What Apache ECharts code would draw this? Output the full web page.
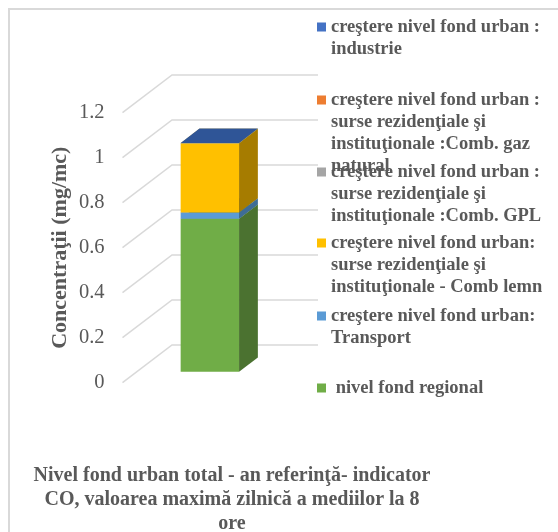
<!DOCTYPE html>
<html><head><meta charset="utf-8">
<script src="https://cdn.jsdelivr.net/npm/echarts@6/dist/echarts.min.js"></script>
<style>html,body{margin:0;padding:0;background:#fff}#c{width:558px;height:532px}</style>
</head><body><div id="c"></div>
<script>
// ---- data ----
const categories = ['CO'];
const titleLines = ['Nivel fond urban total - an referinţă- indicator', 'CO, valoarea maximă zilnică a mediilor la 8', 'ore'];
// series names, bottom of stack first
const seriesNames = [
  ' nivel fond regional',
  'creştere nivel fond urban: Transport',
  'creştere nivel fond urban: surse rezidenţiale şi instituţionale - Comb lemn',
  'creştere nivel fond urban : surse rezidenţiale şi instituţionale :Comb. GPL',
  'creştere nivel fond urban : surse rezidenţiale şi instituţionale :Comb. gaz natural',
  'creştere nivel fond urban : industrie'
];
const regional = [0.68];
const transport = [0.028];
const lemn = [0.308];
const gpl = [0];
const gazNatural = [0];
const industrie = [0.001];
const yTicks = [0, 0.2, 0.4, 0.6, 0.8, 1, 1.2];
// legend label lines (as wrapped in the reference)
const legendLines = {
  'creştere nivel fond urban : industrie': ['creştere nivel fond urban :', 'industrie'],
  'creştere nivel fond urban : surse rezidenţiale şi instituţionale :Comb. gaz natural': ['creştere nivel fond urban :', 'surse rezidenţiale şi', 'instituţionale :Comb. gaz', 'natural'],
  'creştere nivel fond urban : surse rezidenţiale şi instituţionale :Comb. GPL': ['creştere nivel fond urban :', 'surse rezidenţiale şi', 'instituţionale :Comb. GPL'],
  'creştere nivel fond urban: surse rezidenţiale şi instituţionale - Comb lemn': ['creştere nivel fond urban:', 'surse rezidenţiale şi', 'instituţionale - Comb lemn'],
  'creştere nivel fond urban: Transport': ['creştere nivel fond urban:', 'Transport'],
  ' nivel fond regional': [' nivel fond regional']
};
// ---- styles ----
const seriesValues = [regional, transport, lemn, gpl, gazNatural, industrie];
const frontColors = ['#70AD47', '#5B9BD5', '#FFC000', '#A5A5A5', '#ED7D31', '#4472C4'];
const sideColors  = ['#4B7230', '#3E6C96', '#A67C00', '#737373', '#A6561F', '#2F5597'];
const topColors   = ['#5C8E3A', '#4A7FB0', '#D9A300', '#8A8A8A', '#C86A28', '#2F5597'];
const DEPTH = [49.5, -37.7];     // oblique depth vector of the plot floor
const FRONT = 0.29, BACK = 0.67; // bar depth span (fractions of floor depth)
const BAR_RATIO = 0.4;
const FONT = 'Liberation Serif, Times New Roman, serif';
const GRAY = '#595959';

function barRender(i) {
  return function (params, api) {
    const cat = api.value(0), base = api.value(1), top = api.value(2);
    if (!(top - base > 0)) return null;
    const band = api.size([1, 0])[0];
    const w = band * BAR_RATIO;
    const c = api.coord([cat, 0])[0];
    const yb = api.coord([cat, base])[1], yt = api.coord([cat, top])[1];
    const f = [DEPTH[0] * FRONT, DEPTH[1] * FRONT];
    const d = [DEPTH[0] * (BACK - FRONT), DEPTH[1] * (BACK - FRONT)];
    const x0 = c - w / 2 + f[0], x1 = c + w / 2 + f[0];
    const y0 = yb + f[1], y1 = yt + f[1];
    return {
      type: 'group', children: [
        { type: 'polygon', shape: { points: [[x0, y0], [x1, y0], [x1, y1], [x0, y1]] }, style: { fill: frontColors[i] } },
        { type: 'polygon', shape: { points: [[x1, y0], [x1 + d[0], y0 + d[1]], [x1 + d[0], y1 + d[1]], [x1, y1]] }, style: { fill: sideColors[i] } },
        { type: 'polygon', shape: { points: [[x0, y1], [x1, y1], [x1 + d[0], y1 + d[1]], [x0 + d[0], y1 + d[1]]] }, style: { fill: topColors[i] } }
      ]
    };
  };
}

function gridRender(params, api) {
  const cs = params.coordSys;
  const y = api.coord([0, api.value(1)])[1];
  const x0 = cs.x;
  return {
    type: 'polyline',
    shape: { points: [[x0, y], [x0 + DEPTH[0], y + DEPTH[1]], [x0 + DEPTH[0] + cs.width, y + DEPTH[1]]] },
    style: { stroke: '#D9D9D9', lineWidth: 1.5, fill: null }
  };
}

const series = [{
  type: 'custom', name: '_grid', silent: true, renderItem: gridRender,
  data: yTicks.map(v => [0, v]), z: 1
}];
const cum = categories.map(() => 0);
seriesValues.forEach((vals, i) => {
  series.push({
    type: 'custom', name: seriesNames[i], renderItem: barRender(i), z: 2 + i,
    itemStyle: { color: frontColors[i] },
    data: vals.map((v, k) => { const b = cum[k]; cum[k] += v; return [k, b, cum[k]]; })
  });
});

// legend: one block per entry, listed top of stack first; the square sits beside the first text line
const legendOrder = seriesNames.slice().reverse();
const legendIconCenters = [27, 100, 172, 243, 316, 388];
const LH = 22, SQ = 9;
function iconPath(h) {
  const s = LH / 2 - SQ / 2;
  return 'path://M0,0L' + SQ + ',0L' + SQ + ',0.001Z' +
    'M0,' + s + 'L' + SQ + ',' + s + 'L' + SQ + ',' + (s + SQ) + 'L0,' + (s + SQ) + 'Z' +
    'M0,' + (h - 0.001) + 'L' + SQ + ',' + (h - 0.001) + 'L' + SQ + ',' + h + 'Z';
}
const legends = legendOrder.map((name, k) => {
  const n = legendLines[name].length;
  const h = n * LH;
  return {
    data: [name], orient: 'vertical', left: 317, top: legendIconCenters[k] - LH / 2,
    padding: 0, icon: iconPath(h), itemWidth: SQ, itemHeight: h, selectedMode: false,
    formatter: nm => legendLines[nm].join('\n'),
    textStyle: { fontFamily: FONT, fontWeight: 'bold', fontSize: 18.5, color: GRAY, lineHeight: LH }
  };
});

const chart = echarts.init(document.getElementById('c'), null, { renderer: 'canvas' });
chart.setOption({
  animation: false,
  backgroundColor: '#fff',
  graphic: [{ type: 'rect', shape: { x: 9, y: 9, width: 700, height: 700 }, style: { fill: null, stroke: '#D9D9D9', lineWidth: 2 }, silent: true }],
  title: {
    text: titleLines.join('\n'), left: 232, top: 463.5, padding: 0, textAlign: 'center',
    textStyle: { fontFamily: FONT, fontWeight: 'bold', fontSize: 20, color: GRAY, lineHeight: 24 }
  },
  legend: legends,
  grid: { left: 122.5, top: 112.7, width: 146, height: 270, containLabel: false },
  xAxis: { type: 'category', data: categories, show: false },
  yAxis: {
    type: 'value', min: 0, max: 1.2, interval: 0.2,
    name: 'Concentraţii (mg/mc)', nameLocation: 'middle', nameGap: 51,
    nameTextStyle: { fontFamily: FONT, fontWeight: 'bold', fontSize: 22, color: GRAY },
    axisLine: { show: false }, axisTick: { show: false }, splitLine: { show: false },
    axisLabel: { fontFamily: FONT, fontSize: 20.5, color: GRAY, margin: 18 }
  },
  series: series
});
</script></body></html>
